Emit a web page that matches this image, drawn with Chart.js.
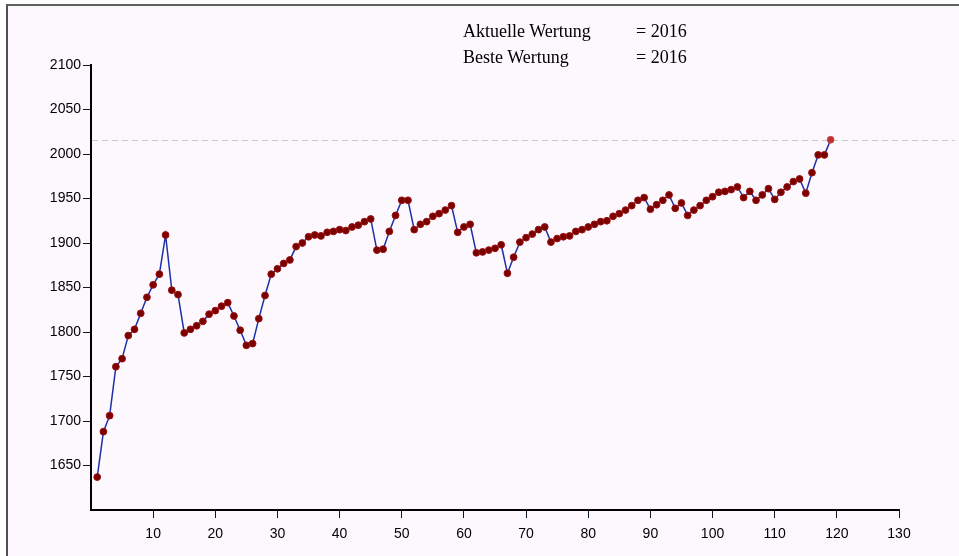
<!DOCTYPE html>
<html>
<head>
<meta charset="utf-8">
<script src="https://cdn.jsdelivr.net/npm/chart.js@4"></script>
<style>
  body { margin: 0; background: #ffffff; }
  #frame {
    position: absolute; left: 6px; top: 4px; width: 953px; height: 552px;
    background: #fdf8fd; border-top: 2px solid #606060; border-left: 2px solid #505050;
    box-sizing: border-box;
  }
  #wrap { position: absolute; left: 0; top: 0; width: 959px; height: 556px; }
  .leg { position: absolute; font-family: "Liberation Serif", "Times New Roman", serif; font-size: 18px; color: #000; white-space: nowrap; }
</style>
</head>
<body>
<div id="frame"></div>
<div id="wrap"><canvas id="chart" width="959" height="556"></canvas></div>
<div class="leg" style="left:463px; top:21px;">Aktuelle Wertung</div>
<div class="leg" style="left:636px; top:21px;">= 2016</div>
<div class="leg" style="left:463px; top:47px;">Beste Wertung</div>
<div class="leg" style="left:636px; top:47px;">= 2016</div>
<script>
// Wertung pro Runde (Runde 1..119)
var ratings = [
  1637, 1688, 1706, 1761, 1770, 1796, 1803, 1821, 1839, 1853,
  1865, 1909, 1847, 1842, 1799, 1803, 1807, 1812, 1820, 1824,
  1829, 1833, 1818, 1802, 1785, 1787, 1815, 1841, 1865, 1871,
  1877, 1881, 1896, 1900, 1907, 1909, 1908, 1912, 1913, 1915,
  1914, 1918, 1920, 1924, 1927, 1892, 1893, 1913, 1931, 1948,
  1948, 1915, 1921, 1924, 1930, 1933, 1937, 1942, 1912, 1918,
  1921, 1889, 1890, 1892, 1894, 1898, 1866, 1884, 1901, 1906,
  1910, 1915, 1918, 1901, 1905, 1907, 1908, 1913, 1915, 1918,
  1921, 1924, 1925, 1930, 1933, 1937, 1942, 1948, 1951, 1938,
  1943, 1948, 1954, 1939, 1945, 1931, 1937, 1942, 1948, 1952,
  1957, 1958, 1960, 1963, 1951, 1958, 1948, 1954, 1961, 1949,
  1957, 1963, 1969, 1972, 1956, 1979, 1999, 1999, 2016
];
var bestRating = 2016;
var xTicks = [10, 20, 30, 40, 50, 60, 70, 80, 90, 100, 110, 120, 130];
var yTicks = [1650, 1700, 1750, 1800, 1850, 1900, 1950, 2000, 2050, 2100];

var points = [];
for (var i = 0; i < ratings.length; i++) {
  points.push({ x: i + 1, y: ratings[i] });
}

// gestrichelte Linie fuer die beste Wertung
var bestLine = {
  id: 'bestLine',
  beforeDatasetsDraw: function (chart) {
    var ctx = chart.ctx;
    var y = Math.round(chart.scales.y.getPixelForValue(bestRating)) + 0.5;
    ctx.save();
    ctx.strokeStyle = '#c8c8c8';
    ctx.lineWidth = 1;
    ctx.setLineDash([6, 4]);
    ctx.beginPath();
    ctx.moveTo(chart.chartArea.left + 1, y);
    ctx.lineTo(chart.width - 4, y);
    ctx.stroke();
    ctx.restore();
  }
};

var tickFont = { family: '"Liberation Sans", Arial, sans-serif', size: 14 };

var ctx = document.getElementById('chart').getContext('2d');
var chart = new Chart(ctx, {
  type: 'line',
  data: {
    datasets: [{
      data: points,
      borderColor: '#1c2fa8',
      borderWidth: 1.5,
      tension: 0,
      pointRadius: 3.4,
      pointBorderWidth: 1,
      pointBackgroundColor: function (c) { return c.dataIndex === ratings.length - 1 ? '#b83030' : '#7a0000'; },
      pointBorderColor: function (c) { return c.dataIndex === ratings.length - 1 ? '#c85050' : '#9a1010'; }
    }]
  },
  options: {
    responsive: false,
    animation: false,
    layout: { padding: { top: 65, right: 60, left: 0, bottom: 0 } },
    plugins: { legend: { display: false }, tooltip: { enabled: false } },
    scales: {
      x: {
        type: 'linear', min: 0, max: 130,
        afterBuildTicks: function (s) { s.ticks = xTicks.map(function (v) { return { value: v }; }); },
        afterFit: function (s) { s.height = 46; },
        border: { color: '#000', width: 2 },
        grid: { drawOnChartArea: false, color: '#101828', tickLength: 8 },
        ticks: { color: '#000', font: tickFont, padding: 8, maxRotation: 0,
          callback: function (v) { return String(v); } }
      },
      y: {
        min: 1600, max: 2100,
        afterBuildTicks: function (s) { s.ticks = yTicks.map(function (v) { return { value: v }; }); },
        afterFit: function (s) { s.width = 91; },
        border: { color: '#000', width: 2 },
        grid: { drawOnChartArea: false, color: '#101828', tickLength: 8 },
        ticks: { color: '#000', font: tickFont, padding: 2,
          callback: function (v) { return String(v); } }
      }
    }
  },
  plugins: [bestLine]
});
</script>
</body>
</html>
